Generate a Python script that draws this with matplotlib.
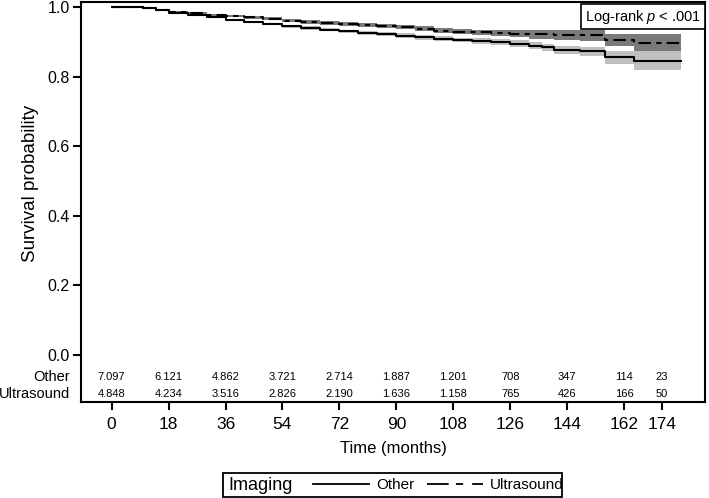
import numpy as np
import matplotlib
matplotlib.use("Agg")
import matplotlib.pyplot as plt
from matplotlib.lines import Line2D
from matplotlib.patches import Rectangle

plt.rcParams['font.family'] = ['Liberation Sans', 'DejaVu Sans']
plt.rcParams['mathtext.fontset'] = 'custom'
plt.rcParams['mathtext.rm'] = 'Liberation Sans'
plt.rcParams['mathtext.it'] = 'Liberation Sans:italic'

# survival curves
t_other = [0, 10, 14, 18, 24, 30, 36, 42, 48, 54, 60, 66, 72, 78, 84, 90, 96, 102,
           108, 114, 120, 126, 132, 136, 140, 148, 156, 165, 180]
s_other = [1.0, 0.997, 0.990, 0.983, 0.976, 0.970, 0.963, 0.957, 0.951, 0.945, 0.940,
           0.935, 0.930, 0.926, 0.922, 0.918, 0.913, 0.909, 0.905, 0.902, 0.899, 0.895,
           0.889, 0.884, 0.876, 0.873, 0.855, 0.846, 0.846]
ci_other = [0.0, 0.001, 0.002, 0.002, 0.003, 0.003, 0.003, 0.004, 0.004, 0.004, 0.005,
            0.005, 0.005, 0.006, 0.006, 0.006, 0.007, 0.007, 0.007, 0.008, 0.008, 0.009,
            0.009, 0.010, 0.012, 0.013, 0.020, 0.027, 0.027]

t_us = [0, 10, 14, 18, 24, 30, 36, 42, 48, 54, 60, 66, 72, 78, 84, 90, 96, 102,
        108, 114, 120, 126, 132, 140, 148, 156, 165, 180]
s_us = [1.0, 0.997, 0.992, 0.987, 0.982, 0.978, 0.974, 0.970, 0.966, 0.961, 0.957,
        0.954, 0.951, 0.949, 0.946, 0.943, 0.937, 0.932, 0.929, 0.927, 0.925, 0.923,
        0.921, 0.920, 0.919, 0.905, 0.897, 0.897]
ci_us = [0.0, 0.001, 0.002, 0.002, 0.003, 0.003, 0.003, 0.004, 0.004, 0.004, 0.005,
         0.005, 0.005, 0.006, 0.006, 0.006, 0.007, 0.007, 0.008, 0.008, 0.009, 0.010,
         0.012, 0.015, 0.016, 0.018, 0.024, 0.024]

# numbers at risk
risk_times = [0, 18, 36, 54, 72, 90, 108, 126, 144, 162, 174]
risk_other = ["7.097", "6.121", "4.862", "3.721", "2.714", "1.887", "1.201", "708", "347", "114", "23"]
risk_us = ["4.848", "4.234", "3.516", "2.826", "2.190", "1.636", "1.158", "765", "426", "166", "50"]

fig = plt.figure(figsize=(7.09, 4.98), dpi=100)
ax = fig.add_axes([0.1142, 0.1928, 0.8802, 0.8032])

so = np.array(s_other)
co = np.array(ci_other)
su = np.array(s_us)
cu = np.array(ci_us)

us_dash = (0, (6, 2.5, 2.5, 2.5))
ax.fill_between(t_other, so - co, so + co, step='post', color='#c0c0c0', lw=0)
ax.fill_between(t_us, su - cu, su + cu, step='post', color='#7a7a7a', lw=0)
ax.plot(t_other, s_other, drawstyle='steps-post', color='black', lw=1.5)
ax.plot(t_us, s_us, drawstyle='steps-post', color='black', lw=1.5, linestyle=us_dash)

# risk table inside the axes
for x, a, b in zip(risk_times, risk_other, risk_us):
    ax.text(x, -0.062, a, ha='center', va='center', fontsize=8)
    ax.text(x, -0.113, b, ha='center', va='center', fontsize=8)
ax.text(-0.017, -0.062, "Other", transform=ax.get_yaxis_transform(),
        ha='right', va='center', fontsize=10.5)
ax.text(-0.017, -0.113, "Ultrasound", transform=ax.get_yaxis_transform(),
        ha='right', va='center', fontsize=10.5)

ax.set_xlim(-9.7, 187.6)
ax.set_ylim(-0.135, 1.0144)
ax.set_xticks(risk_times)
ax.set_yticks([0.0, 0.2, 0.4, 0.6, 0.8, 1.0])
ax.set_yticklabels(["0.0", "0.2", "0.4", "0.6", "0.8", "1.0"])
ax.tick_params(axis='y', direction='out', length=6, width=1.5, labelsize=11.5, pad=2)
ax.tick_params(axis='x', direction='out', length=6, width=1.5, labelsize=12.5, pad=5)
for sp in ax.spines.values():
    sp.set_linewidth(1.5)

ax.set_xlabel("Time (months)", fontsize=12, labelpad=6)
ax.set_ylabel("Survival probability", fontsize=13.5)
ax.yaxis.set_label_coords(-0.068, 0.5475)

ax.text(0.994, 0.986, "Log-rank $\\it{p}$ < .001", transform=ax.transAxes,
        ha='right', va='top', fontsize=10.5,
        bbox=dict(boxstyle='square,pad=0.25', fc='white', ec='black', lw=1.2))

# legend box at the bottom
fig.patches.append(Rectangle((0.3145, 0.002), 0.478, 0.048, transform=fig.transFigure,
                             fill=False, lw=1.3, ec='black'))
fig.text(0.322, 0.026, "Imaging", ha='left', va='center', fontsize=13)
handles = [Line2D([], [], color='black', lw=1.3),
           Line2D([], [], color='black', lw=1.3, linestyle=(0, (12, 4, 4, 5)))]
fig.legend(handles, ["Other", "Ultrasound"], loc='center', bbox_to_anchor=(0.618, 0.026),
           ncol=2, frameon=False, fontsize=11, handlelength=3.7, columnspacing=0.8,
           handletextpad=0.45, borderpad=0)

fig.savefig("out.png", dpi=100)
